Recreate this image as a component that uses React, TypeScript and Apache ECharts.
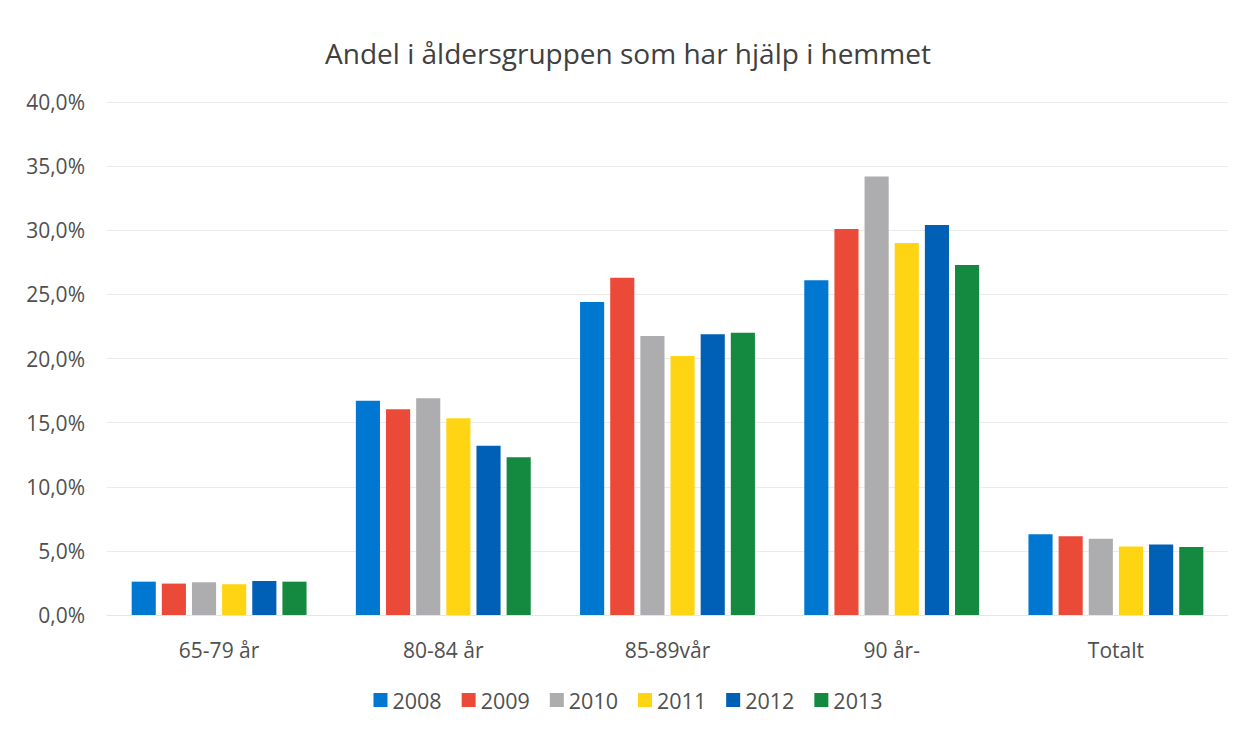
import React, { useEffect, useRef } from "react";
import * as echarts from "echarts";

const categories = ["65-79 år", "80-84 år", "85-89vår", "90 år-", "Totalt"];
const years = ["2008", "2009", "2010", "2011", "2012", "2013"];
const v2008 = [2.6, 16.7, 24.4, 26.1, 6.3];
const v2009 = [2.45, 16.05, 26.3, 30.1, 6.15];
const v2010 = [2.55, 16.9, 21.75, 34.2, 5.95];
const v2011 = [2.4, 15.35, 20.2, 29.0, 5.35];
const v2012 = [2.65, 13.2, 21.9, 30.4, 5.5];
const v2013 = [2.6, 12.3, 22.0, 27.3, 5.3];
const seriesValues = [v2008, v2009, v2010, v2011, v2012, v2013];
const colors = ["#0078D2", "#EC4A38", "#ADADB0", "#FFD412", "#0060B6", "#148A40"];
const yTicks = [0, 5, 10, 15, 20, 25, 30, 35, 40];

export default function App() {
  const ref = useRef<HTMLDivElement>(null);
  useEffect(() => {
    if (!ref.current) return;
    const chart = echarts.init(ref.current, undefined, { renderer: "svg" });
    const font = "'Open Sans', 'Noto Sans', sans-serif";
    chart.setOption({
      animation: false,
      backgroundColor: "#ffffff",
      title: {
        text: "Andel i åldersgruppen som har hjälp i hemmet",
        left: "center",
        top: 34,
        textStyle: { fontFamily: font, fontSize: 28, fontWeight: "normal", color: "#404040" },
      },
      legend: {
        data: years,
        bottom: 22,
        left: "center",
        itemWidth: 14,
        itemHeight: 14,
        itemGap: 20,
        icon: "rect",
        textStyle: { fontFamily: font, fontSize: 21.5, color: "#505050" },
      },
      grid: { left: 107, right: 28, top: 102, bottom: 123 },
      xAxis: {
        type: "category",
        data: categories,
        axisLine: { show: true, lineStyle: { color: "#e6e6e6" } },
        axisTick: { show: false },
        axisLabel: { fontFamily: font, fontSize: 21, color: "#505050", margin: 24 },
      },
      yAxis: {
        type: "value",
        min: yTicks[0],
        max: yTicks[yTicks.length - 1],
        interval: 5,
        axisLine: { show: false },
        axisTick: { show: false },
        splitLine: { lineStyle: { color: "#ebebeb" } },
        axisLabel: {
          fontFamily: font,
          fontSize: 21,
          color: "#505050",
          margin: 22,
          formatter: (v: number) => v.toFixed(1).replace(".", ",") + "%",
        },
      },
      series: years.map((y, i) => ({
        name: y,
        type: "bar",
        data: seriesValues[i],
        itemStyle: { color: colors[i] },
        barGap: "25%",
        barCategoryGap: "22%",
      })),
    });
    return () => chart.dispose();
  }, []);
  return (
    <div
      ref={ref}
      style={{ position: "absolute", left: 0, top: 0, width: 1256, height: 738 }}
    />
  );
}
